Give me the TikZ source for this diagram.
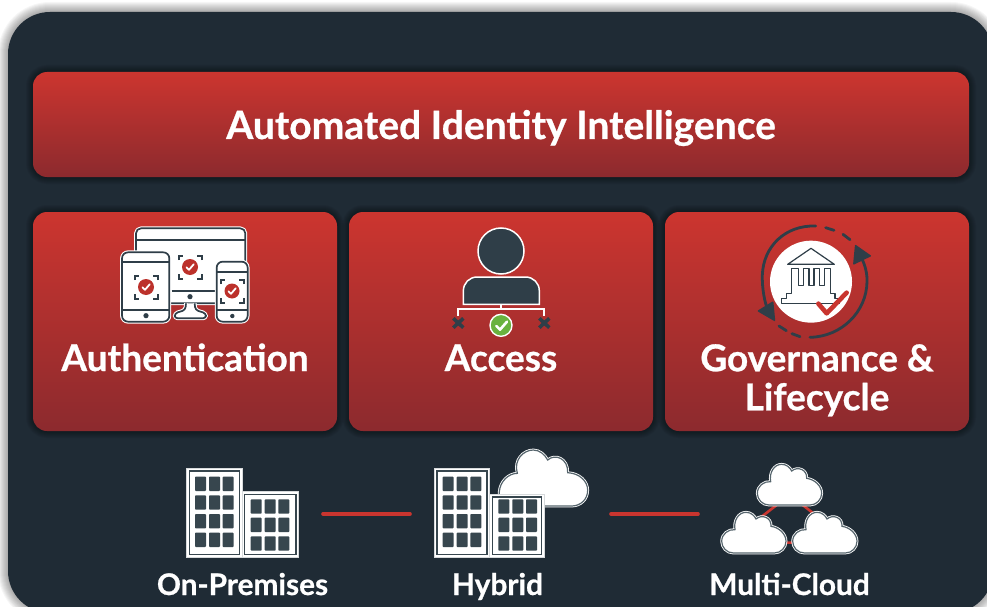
\documentclass[tikz,border=0pt]{standalone}
\usepackage{fontspec}
\setmainfont{Lato}[BoldFeatures={FakeBold=0.7}]
\usetikzlibrary{calc}
\definecolor{panelc}{HTML}{1F2B35}
\definecolor{darkc}{HTML}{2F3E48}
\definecolor{winc}{HTML}{37464E}
\definecolor{redtop}{HTML}{CC352F}
\definecolor{redmid}{HTML}{B9322F}
\definecolor{redbot}{HTML}{8C2A2E}
\definecolor{linkc}{HTML}{C9352F}
\definecolor{okc}{HTML}{69B23F}
\definecolor{rimc}{HTML}{56656D}
\tikzset{
  x=1pt,y=-1pt,
  redbox/.style={rectangle,rounded corners=14pt,inner sep=0pt,draw=none,top color=redtop,middle color=redmid,bottom color=redbot},
  title/.style={text=white,font=\bfseries\fontsize{39}{40}\selectfont,inner sep=0pt,anchor=base},
  head/.style={text=white,font=\bfseries\fontsize{37}{39}\selectfont,inner sep=0pt,anchor=base,align=center},
  foot/.style={text=white,font=\bfseries\fontsize{29.8}{31}\selectfont,inner sep=0pt,anchor=base},
  link/.style={draw=linkc,line width=3.6pt,line cap=round},
  zoomed/.style={x=0.33333pt,y=-0.33333pt},
  dk/.style={draw=darkc,line width=1.7pt,line join=round},
}
% soft outer shadow
\newcommand{\softrect}[6]{%
  \foreach \w in {2,4,...,#6}{%
    \draw[black,opacity=#5,line width=\w pt,rounded corners=14pt] (#1,#2) rectangle (#3,#4);}}
% device screen mark
\newcommand{\scanmark}[3]{%
  \begin{scope}[shift={(#1,#2)}]
    \fill[redtop!92!black] (0,0) circle (#3);
    \draw[white,line width=1.8pt,line cap=round,line join=round] (-3.6,0.3) -- (-1,2.8) -- (3.8,-2.8);
    \foreach \sx/\sy in {1/1,1/-1,-1/1,-1/-1}{
      \draw[darkc,line width=2pt] (\sx*11.5,\sy*7) -- (\sx*11.5,\sy*11.5) -- (\sx*7,\sy*11.5);}
  \end{scope}}
% white halo under a dark line
\newcommand{\halo}[1]{%
  \draw[white,line width=3.8pt,line join=round] #1;
  \draw[fill=white,draw=darkc,line width=1.7pt,line join=round] #1;}
% buildings, in the coordinates of the on-premises crop
\newcommand{\towers}[2]{%
  \fill[white] (50,70) rectangle (216,337);
  \draw[white!80!winc,line width=0.5pt] (50,70) rectangle (216,337);
  \fill[white] (216,#1) rectangle (#2,337);
  \draw[white!80!winc,line width=0.5pt] (216,#1) rectangle (#2,337);
  \draw[winc,line width=1.5pt] (58,78) rectangle (208,328);
  \draw[winc,line width=1.5pt] (224,#1+8) rectangle (#2-7,328);
  \foreach \wx in {75,117,158}{\foreach \wy in {95,151,207,263}{
    \fill[winc,rounded corners=0.8pt] (\wx,\wy) rectangle (\wx+33,\wy+43);}}
  \foreach \wx in {242,284,325}{\foreach \wy in {163,218,274}{
    \fill[winc,rounded corners=0.8pt] (\wx,\wy) rectangle (\wx+33,\wy+43);}}}
\newcommand{\cloudpath}{(35,122) .. controls (15,122) and (0,105) .. (0,87) .. controls (0,65) and (20,50) .. (40,52) .. controls (35,25) and (50,0) .. (73,0) .. controls (88,0) and (98,10) .. (103,20) .. controls (120,5) and (150,15) .. (148,42) .. controls (172,45) and (193,65) .. (193,87) .. controls (193,105) and (178,122) .. (158,122) -- cycle}
\newcommand{\smallcloud}[2]{%
  \begin{scope}[shift={(#1,#2)},zoomed]
    \draw[white,line width=2.8pt] \cloudpath;
    \draw[fill=white,draw=rimc,line width=1.2pt] \cloudpath;
  \end{scope}}
\begin{document}
\begin{tikzpicture}
\useasboundingbox (0,0) rectangle (987,607);
\clip (0,0) rectangle (987,607);
\fill[white] (0,0) rectangle (987,607);
% panel
\foreach \w in {2,4,...,20}{
  \draw[black,opacity=0.035,line width=\w pt,rounded corners=42pt] (8,12) rectangle (993,613);}
\fill[panelc,rounded corners=42pt] (8,12) rectangle (993,613);
% box shadows
\softrect{33}{72}{969}{177}{0.05}{14}
\softrect{33}{212}{337}{431}{0.05}{14}
\softrect{349}{212}{653}{431}{0.05}{14}
\softrect{665}{212}{969}{431}{0.05}{14}
% boxes
\node[redbox,minimum width=936pt,minimum height=105pt] (banner) at (501,124.5) {};
\node[redbox,minimum width=304pt,minimum height=219pt] (authbox) at (185,321.5) {};
\node[redbox,minimum width=304pt,minimum height=219pt] (accessbox) at (501,321.5) {};
\node[redbox,minimum width=304pt,minimum height=219pt] (govbox) at (817,321.5) {};
\node[title] (bannertext) at (501,139) {Automated Identity Intelligence};
\node[head] (authtext) at (185,371) {Authentication};
\node[head] (accesstext) at (501,371) {Access};
\node[head,anchor=north] (govtext) at (817,344) {Governance \&\\Lifecycle};
% devices
\begin{scope}[shift={(100,215)},zoomed]
  \begin{scope}[rounded corners=5pt]
    \halo{(108,265) -- (108,40) -- (436,40) -- (436,265) -- cycle}
  \end{scope}
  \draw[dk] (108,75) -- (436,75);
  \draw[dk] (215,229) -- (345,229);
  \fill[darkc] (270,245) circle (2.6pt);
  \begin{scope}[rounded corners=3pt]
    \halo{(258,265) -- (256,285) -- (224,295) -- (224,310) -- (318,310) -- (318,295) -- (286,285) -- (284,265)}
  \end{scope}
  \begin{scope}[rounded corners=6pt]
    \halo{(66,320) -- (66,112) -- (208,112) -- (208,320) -- cycle}
    \halo{(350,320) -- (350,140) -- (443,140) -- (443,320) -- cycle}
  \end{scope}
  \draw[dk] (66,142) -- (208,142);
  \draw[dk] (66,285) -- (208,285);
  \draw[dk] (350,170) -- (443,170);
  \draw[dk] (350,285) -- (443,285);
  \fill[darkc] (138,302) circle (2.6pt);
  \fill[darkc] (397,303) circle (2.2pt);
\end{scope}
\scanmark{146}{287}{8pt}
\scanmark{190}{267}{8pt}
\scanmark{232}{291}{7.5pt}
% person
\begin{scope}[shift={(430,215)},zoomed]
  \draw[white,line width=1.5pt,fill=darkc] (213,108) circle (23pt);
  \draw[white,line width=1.5pt,fill=darkc] (100,268) -- (100,228) .. controls (100,204) and (118,186) .. (142,186) -- (286,186) .. controls (310,186) and (328,204) .. (328,228) -- (328,268) -- cycle;
  \draw[white,line width=2pt] (213,268) -- (213,283);
  \draw[white,line width=2pt] (85,302) -- (85,283) -- (343,283) -- (343,302);
  \draw[darkc,line width=3.6pt] (70,310) -- (100,338) (100,310) -- (70,338);
  \draw[darkc,line width=3.6pt] (328,310) -- (358,338) (358,310) -- (328,338);
  \draw[white,line width=1.4pt,fill=okc] (213,331) circle (11pt);
  \draw[white,line width=2.6pt,line cap=round,line join=round] (199,333) -- (210,344) -- (231,320);
\end{scope}
% governance
\begin{scope}[shift={(745,215)},zoomed]
  \fill[white] (198,200) circle (41pt);
  \draw[darkc,line width=1.2pt,line join=round] (128,148) -- (198,100) -- (268,148) -- cycle;
  \draw[darkc,line width=1.2pt,line join=round] (110,265) -- (110,250) -- (125,250) -- (125,235) -- (140,235) -- (140,160) -- (160,160) -- (160,212) -- (175,212) -- (175,160) -- (192,160) -- (192,212) -- (207,212) -- (207,160) -- (223,160) -- (223,212) -- (238,212) -- (238,160) -- (256,160) -- (256,235) -- (270,235) -- (270,250) -- (284,250) -- (284,265) -- cycle;
  \draw[linkc,line width=4.6pt,line join=round,line cap=round] (220,266) -- (245,295) -- (305,233);
  \draw[darkc,line width=2.8pt,line cap=round] (212,33) .. controls (120,30) and (55,95) .. (52,180) .. controls (51,220) and (58,260) .. (70,290);
  \draw[darkc,line width=2.8pt,line cap=round] (195,367) .. controls (290,365) and (365,290) .. (366,200) .. controls (367,175) and (360,150) .. (350,130);
  \draw[darkc,line width=2.8pt,line cap=round] (242,38) -- (267,46) (294,58) -- (315,74) (102,333) -- (124,347) (141,356) -- (165,365);
  \fill[darkc,rounded corners=1pt] (36,288) -- (85,258) -- (91,320) -- cycle;
  \fill[darkc,rounded corners=1pt] (330,88) -- (380,123) -- (324,150) -- cycle;
\end{scope}
% on-premises
\begin{scope}[shift={(170,445)},zoomed]
  \towers{140}{385}
\end{scope}
% hybrid
\begin{scope}[shift={(417.67,445)},zoomed]
  \draw[white,line width=2.8pt] (245,183) -- (245,140) .. controls (247,110) and (272,85) .. (299,85) .. controls (287,45) and (317,15) .. (347,15) .. controls (367,15) and (382,30) .. (390,45) .. controls (412,25) and (452,40) .. (450,83) .. controls (487,85) and (510,110) .. (510,135) .. controls (510,165) and (487,183) .. (462,183) -- cycle;
  \draw[fill=white,draw=rimc,line width=1.2pt] (245,183) -- (245,140) .. controls (247,110) and (272,85) .. (299,85) .. controls (287,45) and (317,15) .. (347,15) .. controls (367,15) and (382,30) .. (390,45) .. controls (412,25) and (452,40) .. (450,83) .. controls (487,85) and (510,110) .. (510,135) .. controls (510,165) and (487,183) .. (462,183) -- cycle;
  \towers{148}{379}
\end{scope}
% clouds
\begin{scope}[shift={(700,455)},zoomed]
  \coordinate (ca) at (230,150); \coordinate (cb) at (185,185);
  \coordinate (cc) at (308,150); \coordinate (cd) at (340,175);
  \coordinate (ce) at (258,263); \coordinate (cf) at (278,263);
\end{scope}
\draw[linkc,line width=2.6pt] (ca) -- (cb) (cc) -- (cd) (ce) -- (cf);
\smallcloud{757.33}{464.33}
\smallcloud{721.67}{512.33}
\smallcloud{792.67}{512.33}
% links
\coordinate (l1a) at (323,514); \coordinate (l1b) at (410,514);
\coordinate (l2a) at (611,514); \coordinate (l2b) at (698,514);
\draw[link] (l1a) -- (l1b);
\draw[link] (l2a) -- (l2b);
% captions
\node[foot] (onprem) at (242.5,595) {On-Premises};
\node[foot] (hybrid) at (497.5,595) {Hybrid};
\node[foot] (multi) at (789.5,595) {Multi-Cloud};
\end{tikzpicture}
\end{document}
